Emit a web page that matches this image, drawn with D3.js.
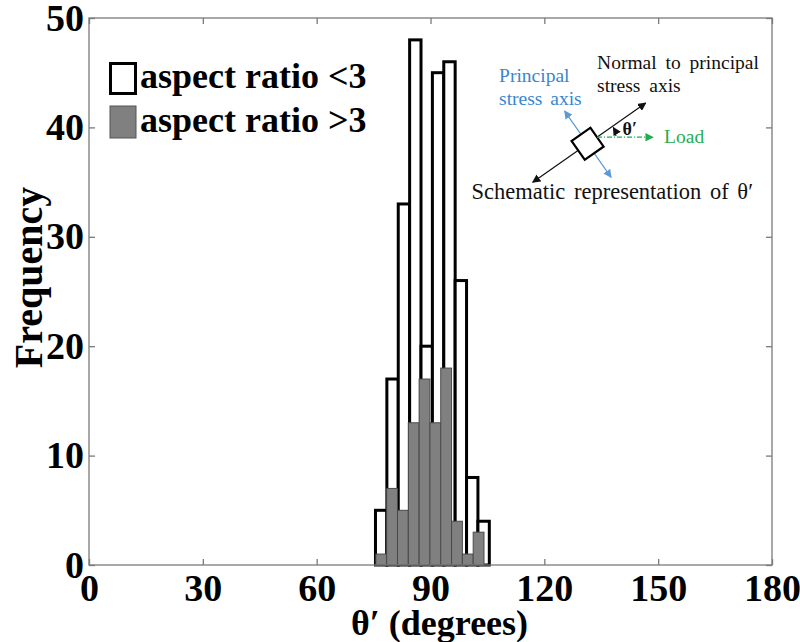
<!DOCTYPE html>
<html>
<head>
<meta charset="utf-8">
<script src="https://cdn.jsdelivr.net/npm/d3@7"></script>
<style>
  html, body { margin: 0; padding: 0; background: #fff; }
  svg { display: block; }
</style>
</head>
<body>
<svg id="chart" width="800" height="642"></svg>
<script>
// ---- data ----
const whiteBinEdges = [75.5, 78.5, 81.5, 84.5, 87.5, 90.5, 93.5, 96.5, 99.5, 102.5, 105.5];
const whiteCounts   = [5, 17, 33, 48, 20, 45, 46, 26, 8, 4];
const grayBinEdges  = [75.6, 78.45, 81.3, 84.15, 87.0, 89.85, 92.7, 95.55, 98.4, 101.25, 104.1];
const grayCounts    = [1, 7, 5, 13, 17, 13, 18, 4, 1, 3];
const xTicks = [0, 30, 60, 90, 120, 150, 180];
const yTicks = [0, 10, 20, 30, 40, 50];
const legendLabels = ["aspect ratio <3", "aspect ratio >3"];
const xLabel = "θ′ (degrees)";
const yLabel = "Frequency";
const schematic = {
  anchor: [131.4, 38.5], // data coordinates of schematic square centre
  normal: ["Normal to principal", "stress axis"],
  principal: ["Principal", "stress axis"],
  load: "Load",
  angle: "θ′",
  caption: "Schematic representation of θ′"
};

// ---- layout ----
const svg = d3.select("#chart");
const L = 89, R = 772, T = 18, B = 565;
const x = d3.scaleLinear().domain([0, 180]).range([L, R]);
const y = d3.scaleLinear().domain([0, 50]).range([B, T]);
const serif = "'Liberation Serif', 'Times New Roman', serif";
const frameColor = "#7a7a7a";

function bins(edges, counts) {
  return counts.map((c, i) => ({ x0: edges[i], x1: edges[i + 1], c }));
}

// white bars
svg.append("g").selectAll("rect")
  .data(bins(whiteBinEdges, whiteCounts))
  .join("rect")
  .attr("x", d => x(d.x0))
  .attr("width", d => x(d.x1) - x(d.x0))
  .attr("y", d => y(d.c))
  .attr("height", d => y(0) - y(d.c))
  .attr("fill", "#fff")
  .attr("stroke", "#000")
  .attr("stroke-width", 3);

// gray bars
svg.append("g").selectAll("rect")
  .data(bins(grayBinEdges, grayCounts))
  .join("rect")
  .attr("x", d => x(d.x0))
  .attr("width", d => x(d.x1) - x(d.x0))
  .attr("y", d => y(d.c))
  .attr("height", d => y(0) - y(d.c))
  .attr("fill", "#808080")
  .attr("stroke", "#4a4a4a")
  .attr("stroke-width", 1);

// frame
svg.append("rect")
  .attr("x", L).attr("y", T).attr("width", R - L).attr("height", B - T)
  .attr("fill", "none").attr("stroke", frameColor).attr("stroke-width", 1.3);

// axes
function styleAxis(g, showText) {
  g.select(".domain").remove();
  g.selectAll(".tick line").attr("stroke", frameColor).attr("stroke-width", 1.3);
  g.selectAll(".tick text")
    .attr("font-family", serif).attr("font-weight", "bold")
    .attr("font-size", 38).attr("fill", "#000");
  if (!showText) g.selectAll(".tick text").remove();
}
svg.append("g").attr("transform", `translate(0,${B})`)
  .call(d3.axisBottom(x).tickValues(xTicks).tickSizeInner(-6).tickSizeOuter(0).tickPadding(9))
  .call(g => styleAxis(g, true));
svg.append("g").attr("transform", `translate(0,${T})`)
  .call(d3.axisTop(x).tickValues(xTicks).tickSizeInner(-6).tickSizeOuter(0))
  .call(g => styleAxis(g, false));
svg.append("g").attr("transform", `translate(${L},0)`)
  .call(d3.axisLeft(y).tickValues(yTicks).tickSizeInner(-6).tickSizeOuter(0).tickPadding(5))
  .call(g => styleAxis(g, true));
svg.append("g").attr("transform", `translate(${R},0)`)
  .call(d3.axisRight(y).tickValues(yTicks).tickSizeInner(-6).tickSizeOuter(0))
  .call(g => styleAxis(g, false));

// axis labels
svg.append("text")
  .attr("x", (L + R) / 2 + 9).attr("y", 635)
  .attr("text-anchor", "middle")
  .attr("font-family", serif).attr("font-weight", "bold").attr("font-size", 36)
  .text(xLabel);
svg.append("text")
  .attr("transform", `translate(42,${(T + B) / 2 - 14}) rotate(-90)`)
  .attr("text-anchor", "middle")
  .attr("font-family", serif).attr("font-weight", "bold").attr("font-size", 40)
  .text(yLabel);

// legend
const leg = svg.append("g").attr("transform", "translate(109,62)");
leg.append("rect").attr("x", 1.5).attr("y", 1.5).attr("width", 25).attr("height", 30)
  .attr("fill", "#fff").attr("stroke", "#000").attr("stroke-width", 3);
leg.append("rect").attr("x", 1).attr("y", 44).attr("width", 26).attr("height", 32)
  .attr("fill", "#808080").attr("stroke", "#555").attr("stroke-width", 1);
leg.selectAll("text.lab").data(legendLabels).join("text")
  .attr("class", "lab")
  .attr("x", 31).attr("y", (d, i) => 26 + i * 44)
  .attr("font-family", serif).attr("font-weight", "bold").attr("font-size", 36)
  .text(d => d);

// schematic inset
const defs = svg.append("defs");
function marker(id, color) {
  defs.append("marker").attr("id", id)
    .attr("viewBox", "0 0 10 10").attr("refX", 9).attr("refY", 5)
    .attr("markerWidth", 7).attr("markerHeight", 7)
    .attr("orient", "auto-start-reverse")
    .append("path").attr("d", "M0,0 L10,5 L0,10 z").attr("fill", color);
}
marker("arrBlack", "#111");
marker("arrBlue", "#5b9bd5");
marker("arrGreen", "#1fae4b");

const cx = x(schematic.anchor[0]), cy = y(schematic.anchor[1]);
const ang = -35 * Math.PI / 180;
const ux = Math.cos(ang), uy = Math.sin(ang);      // normal-axis direction
const px = -uy, py = ux;                          // principal (perpendicular) direction
const s = svg.append("g");

// principal stress axis (blue)
s.append("line")
  .attr("x1", cx + px * 41).attr("y1", cy + py * 41)
  .attr("x2", cx - px * 40).attr("y2", cy - py * 40)
  .attr("stroke", "#5b9bd5").attr("stroke-width", 1.2)
  .attr("marker-start", "url(#arrBlue)").attr("marker-end", "url(#arrBlue)");
// normal axis (black)
s.append("line")
  .attr("x1", cx - ux * 67).attr("y1", cy - uy * 67)
  .attr("x2", cx + ux * 71).attr("y2", cy + uy * 71)
  .attr("stroke", "#111").attr("stroke-width", 1.2)
  .attr("marker-start", "url(#arrBlack)").attr("marker-end", "url(#arrBlack)");
// square
s.append("rect")
  .attr("x", -11.5).attr("y", -11.5).attr("width", 23).attr("height", 23)
  .attr("transform", `translate(${cx},${cy}) rotate(-35)`)
  .attr("fill", "#fff").attr("stroke", "#000").attr("stroke-width", 2.2);
// load line (green dash-dot)
const lx0 = cx + ux * 11.5, ly0 = cy + uy * 11.5;
s.append("line")
  .attr("x1", lx0).attr("y1", ly0).attr("x2", lx0 + 56).attr("y2", ly0)
  .attr("stroke", "#1fae4b").attr("stroke-width", 1.2)
  .attr("stroke-dasharray", "5,2,1,2")
  .attr("marker-end", "url(#arrGreen)");
// angle arc
const rA = 19;
const a0 = -4 * Math.PI / 180, a1 = ang + 4 * Math.PI / 180;
s.append("path")
  .attr("d", `M${lx0 + rA * Math.cos(a0)},${ly0 + rA * Math.sin(a0)} A${rA},${rA} 0 0 0 ${lx0 + rA * Math.cos(a1)},${ly0 + rA * Math.sin(a1)}`)
  .attr("fill", "none").attr("stroke", "#111").attr("stroke-width", 1.2)
  .attr("marker-end", "url(#arrBlack)");

const txt = (tx, ty, t, color, size, weight, ws) => s.append("text")
  .attr("x", tx).attr("y", ty).attr("fill", color)
  .attr("font-family", serif).attr("font-size", size).attr("font-weight", weight || "normal")
  .attr("word-spacing", ws || 0)
  .text(t);
txt(cx + 9.5, cy - 75, schematic.normal[0], "#111", 19.5, "normal", 4);
txt(cx + 9.5, cy - 52, schematic.normal[1], "#111", 19.5, "normal", 4);
txt(cx - 88.5, cy - 61.5, schematic.principal[0], "#3a86d0", 19.5);
txt(cx - 88.5, cy - 38.5, schematic.principal[1], "#3a86d0", 19.5, "normal", 3);
txt(cx + 76.5, cy - 0.5, schematic.load, "#1fae4b", 19.5);
txt(cx + 35, cy - 9, schematic.angle, "#111", 18, "bold");
txt(cx - 116, cy + 55, schematic.caption, "#111", 22.5, "normal", 3);
</script>
</body>
</html>
